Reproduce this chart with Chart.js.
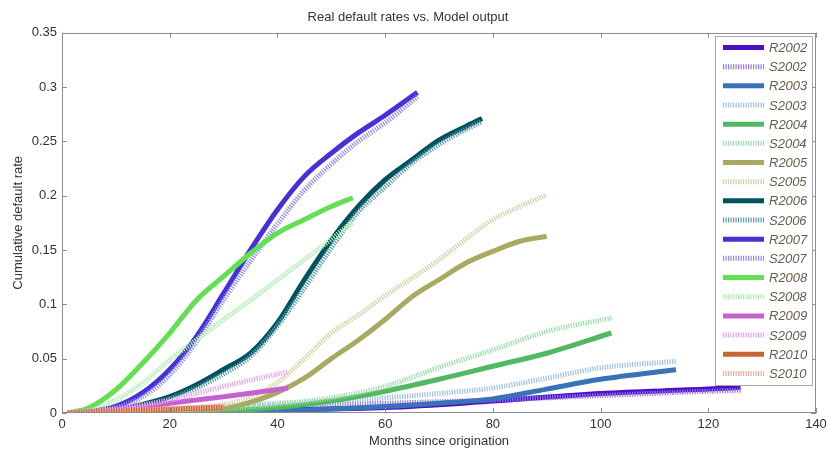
<!DOCTYPE html>
<html>
<head>
<meta charset="utf-8">
<script src="https://cdn.jsdelivr.net/npm/chart.js@4/dist/chart.umd.min.js"></script>
<style>
  body { margin: 0; background: #fff; }
</style>
</head>
<body>
<canvas id="graficoDefault" width="826" height="450"></canvas>
<script>
// Axis ticks
const xTicks = [0, 20, 40, 60, 80, 100, 120, 140];
const yTicks = [0, 0.05, 0.1, 0.15, 0.2, 0.25, 0.3, 0.35];

// Cohorts: months since origination, real (R) and model (S) cumulative default rate
const cohortes = ['2002', '2003', '2004', '2005', '2006', '2007', '2008', '2009', '2010'];

const meses2002 = [1, 20, 40, 60, 80, 100, 120, 126];
const real2002 = [0, 0.001, 0.003, 0.005, 0.011, 0.018, 0.022, 0.0236];
const sim2002 = [0, 0.003, 0.007, 0.009, 0.012, 0.016, 0.020, 0.021];

const meses2003 = [1, 20, 40, 60, 70, 80, 90, 100, 114];
const real2003 = [0, 0.001, 0.002, 0.006, 0.009, 0.013, 0.022, 0.031, 0.0398];
const sim2003 = [0, 0.004, 0.009, 0.014, 0.018, 0.023, 0.032, 0.0416, 0.0475];

const meses2004 = [1, 20, 30, 40, 50, 60, 70, 80, 90, 102];
const real2004 = [0, 0.001, 0.002, 0.005, 0.011, 0.020, 0.031, 0.043, 0.055, 0.0736];
const sim2004 = [0, 0.002, 0.004, 0.008, 0.014, 0.0245, 0.042, 0.058, 0.075, 0.0874];

const meses2005 = [1, 20, 30, 35, 40, 45, 50, 55, 60, 65, 70, 75, 80, 85, 90];
const real2005 = [0, 0.001, 0.004, 0.010, 0.019, 0.032, 0.050, 0.067, 0.086, 0.107, 0.1226, 0.138, 0.1487, 0.158, 0.1625];
const sim2005 = [0, 0.002, 0.008, 0.015, 0.028, 0.050, 0.0736, 0.090, 0.108, 0.124, 0.141, 0.160, 0.178, 0.190, 0.2008];

const meses2006 = [1, 10, 15, 20, 25, 30, 35, 40, 45, 50, 55, 60, 65, 70, 75, 78];
const real2006 = [0, 0.003, 0.008, 0.015, 0.026, 0.040, 0.055, 0.083, 0.1226, 0.159, 0.190, 0.2146, 0.233, 0.251, 0.2637, 0.271];
const sim2006 = [0, 0.003, 0.007, 0.013, 0.023, 0.036, 0.052, 0.080, 0.115, 0.152, 0.185, 0.208, 0.230, 0.247, 0.261, 0.268];

const meses2007 = [1, 5, 10, 15, 20, 25, 30, 35, 40, 45, 50, 55, 60, 66];
const real2007 = [0, 0.001, 0.006, 0.0187, 0.040, 0.0705, 0.110, 0.150, 0.187, 0.2177, 0.239, 0.2577, 0.274, 0.295];
const sim2007 = [0, 0.0008, 0.005, 0.015, 0.035, 0.066, 0.104, 0.140, 0.174, 0.205, 0.229, 0.250, 0.267, 0.291];

const meses2008 = [1, 5, 10, 15, 20, 25, 30, 35, 40, 45, 50, 54];
const real2008 = [0, 0.0048, 0.0214, 0.046, 0.0736, 0.104, 0.1257, 0.147, 0.1656, 0.178, 0.190, 0.198];
const sim2008 = [0, 0.002, 0.012, 0.0276, 0.049, 0.0675, 0.086, 0.104, 0.1226, 0.141, 0.160, 0.176];

const meses2009 = [1, 10, 20, 30, 42];
const real2009 = [0, 0.003, 0.009, 0.015, 0.023];
const sim2009 = [0, 0.004, 0.012, 0.0245, 0.038];

const meses2010 = [1, 10, 20, 30];
const real2010 = [0, 0.0015, 0.0035, 0.0055];
const sim2010 = [0, 0.002, 0.004, 0.006];

const meses = [meses2002, meses2003, meses2004, meses2005, meses2006, meses2007, meses2008, meses2009, meses2010];
const reales = [real2002, real2003, real2004, real2005, real2006, real2007, real2008, real2009, real2010];
const simulados = [sim2002, sim2003, sim2004, sim2005, sim2006, sim2007, sim2008, sim2009, sim2010];

const coloresR = ['#4a10c8', '#3a72b8', '#52b862', '#a8aa62', '#005260', '#4432d8', '#62e052', '#c462d0', '#c86434'];
const coloresS = ['#9478ea', '#a0c0e8', '#9cdeaa', '#d0d0a4', '#5e9ca6', '#928af0', '#aaf0a8', '#eca4ee', '#eeb09c'];
const rayado = [1.2, 1.3];

const fuente = 'Arial, "Liberation Sans", sans-serif';

let datasets = [];
cohortes.forEach((anio, i) => {
    let puntos = arr => arr.map((v, k) => ({ x: meses[i][k], y: v }));
    datasets.push({ label: 'R' + anio, data: puntos(reales[i]), borderColor: coloresR[i], borderWidth: 5 });
    datasets.push({ label: 'S' + anio, data: puntos(simulados[i]), borderColor: coloresS[i], borderWidth: 5, borderDash: rayado });
});
// later series sit on top, like the original plot
datasets.forEach((d, k) => {
    d.order = -k; d.pointRadius = 0; d.fill = false;
    d.cubicInterpolationMode = 'monotone'; d.borderCapStyle = 'butt';
});

// Box around the plot with inward ticks on all four sides
const marcoEjes = {
    id: 'marcoEjes',
    afterDatasetsDraw(chart) {
        const { ctx, chartArea: a, scales: { x, y } } = chart;
        ctx.save();
        ctx.strokeStyle = '#8c8c8c'; ctx.lineWidth = 1;
        ctx.strokeRect(Math.round(a.left) + .5, Math.round(a.top) + .5, Math.round(a.width) - 1, Math.round(a.height) - 1);
        ctx.beginPath();
        x.ticks.forEach(t => {
            let px = Math.round(x.getPixelForValue(t.value)) + .5;
            ctx.moveTo(px, a.bottom); ctx.lineTo(px, a.bottom - 5);
            ctx.moveTo(px, a.top); ctx.lineTo(px, a.top + 5);
        });
        y.ticks.forEach(t => {
            let py = Math.round(y.getPixelForValue(t.value)) + .5;
            ctx.moveTo(a.left, py); ctx.lineTo(a.left + 5, py);
            ctx.moveTo(a.right, py); ctx.lineTo(a.right - 5, py);
        });
        ctx.stroke();
        ctx.restore();
    }
};

// Legend box inside the top right corner of the plot
const cajaLeyenda = {
    id: 'cajaLeyenda',
    afterDraw(chart) {
        const { ctx, chartArea: a } = chart;
        let w = 97, h = 349, x0 = Math.round(a.right) - 4 - w, y0 = Math.round(a.top) + 3;
        ctx.save();
        ctx.fillStyle = '#fff'; ctx.fillRect(x0, y0, w, h);
        ctx.strokeStyle = '#a8a8a8'; ctx.lineWidth = 1; ctx.strokeRect(x0 + .5, y0 + .5, w, h);
        ctx.font = 'italic 13px ' + fuente;
        ctx.textBaseline = 'middle';
        chart.data.datasets.forEach((ds, i) => {
            let yy = y0 + 11.5 + i * 19.17;
            ctx.setLineDash(ds.borderDash || []);
            ctx.strokeStyle = ds.borderColor; ctx.lineWidth = 5; ctx.lineCap = 'butt';
            ctx.beginPath(); ctx.moveTo(x0 + 8, yy); ctx.lineTo(x0 + 49, yy); ctx.stroke();
            ctx.setLineDash([]);
            ctx.fillStyle = '#6b5b4b'; ctx.fillText(ds.label, x0 + 54, yy + 1);
        });
        ctx.restore();
    }
};

const etiquetaY = v => String(+v.toFixed(2));

new Chart(document.getElementById('graficoDefault'), {
    type: 'line',
    data: { datasets: datasets },
    plugins: [marcoEjes, cajaLeyenda],
    options: {
        responsive: false, animation: false,
        layout: { padding: { left: 0, right: 10, top: 0, bottom: 0 } },
        plugins: {
            legend: { display: false },
            tooltip: { enabled: false },
            title: {
                display: true, text: 'Real default rates vs. Model output', color: '#333',
                font: { family: fuente, size: 13, weight: 'normal' }, padding: { top: 10, bottom: 7 }
            }
        },
        scales: {
            x: {
                type: 'linear', min: 0, max: 140,
                afterBuildTicks: s => { s.ticks = xTicks.map(v => ({ value: v })); },
                afterFit: s => { s.height = 37; s.paddingLeft = 0; s.paddingRight = 0; },
                grid: { display: false, drawTicks: false }, border: { display: false },
                ticks: { color: '#333', font: { family: fuente, size: 13 }, padding: 4, maxRotation: 0 },
                title: { display: true, text: 'Months since origination', color: '#333', font: { family: fuente, size: 13 }, padding: { top: 0, bottom: 0.5 } }
            },
            y: {
                type: 'linear', min: 0, max: 0.35,
                afterBuildTicks: s => { s.ticks = yTicks.map(v => ({ value: v })); },
                afterFit: s => { s.width = 62; s.paddingTop = 0; s.paddingBottom = 0; },
                grid: { display: false, drawTicks: false }, border: { display: false },
                ticks: { color: '#333', font: { family: fuente, size: 13 }, padding: 5, callback: etiquetaY },
                title: { display: true, text: 'Cumulative default rate', color: '#333', font: { family: fuente, size: 13 }, padding: { top: 10.5, bottom: 0 } }
            }
        }
    }
});
</script>
</body>
</html>
